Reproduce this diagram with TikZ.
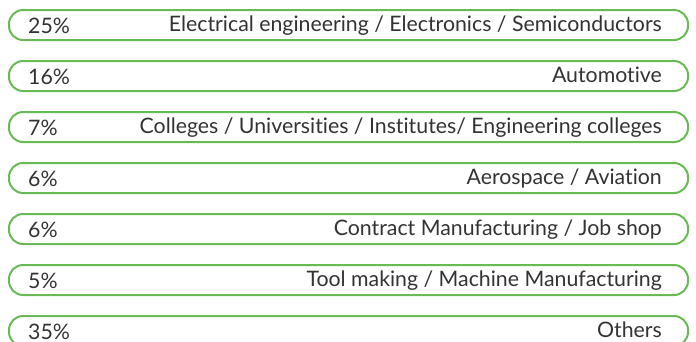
\documentclass[tikz,border=0pt]{standalone}
\usepackage{fontspec}
\setmainfont{Lato}[Ligatures=NoCommon]
\definecolor{barline}{RGB}{104,186,84}
\definecolor{txt}{RGB}{51,51,51}
\begin{document}
\begin{tikzpicture}[x=1pt,y=-1pt,
  bar/.style={draw=barline,line width=2pt,rounded corners=14pt},
  pct/.style={anchor=base west,inner sep=0pt,text=txt,font=\fontsize{21.3}{24}\selectfont},
  lbl/.style={anchor=base east,inner sep=0pt,text=txt,font=\fontsize{21.3}{24}\selectfont}]
\useasboundingbox (0,0) rectangle (696,341);
\clip (0,0) rectangle (696,341);
\foreach \i/\p/\l in {0/25\%/{Electrical engineering / Electronics / Semiconductors},
                      1/16\%/{Automotive},
                      2/7\%/{Colleges / Universities / Institutes/ Engineering colleges},
                      3/6\%/{Aerospace / Aviation},
                      4/6\%/{Contract Manufacturing / Job shop},
                      5/5\%/{Tool making / Machine Manufacturing},
                      6/35\%/{Others}}{
  \pgfmathsetmacro{\t}{10+51*\i}
  \draw[bar] (9,\t) rectangle (688,\t+30);
  \node[pct] (p\i) at (28,\t+23.5) {\p};
  \node[lbl] (l\i) at (662,\t+21.5) {\l};
}
\end{tikzpicture}
\end{document}
